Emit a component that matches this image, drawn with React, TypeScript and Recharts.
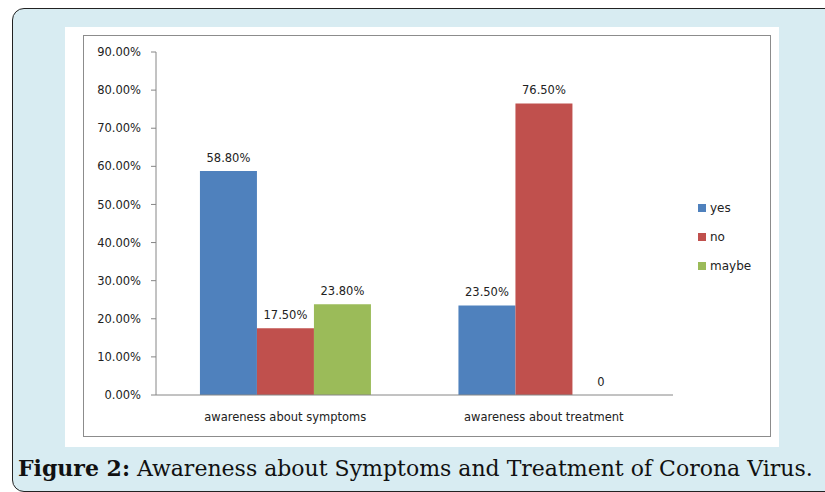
import { BarChart, Bar, XAxis, YAxis, LabelList } from 'recharts';

const categories = ['awareness about symptoms', 'awareness about treatment'];
const yes = [58.8, 23.5];
const no = [17.5, 76.5];
const maybe = [23.8, 0];
const yTicks = [0, 10, 20, 30, 40, 50, 60, 70, 80, 90];

const SERIES = [
    { key: 'yes', name: 'yes', color: '#4f81bd' },
    { key: 'no', name: 'no', color: '#c0504d' },
    { key: 'maybe', name: 'maybe', color: '#9bbb59' },
];

const data = categories.map((c, i) => ({
    name: c,
    yes: yes[i],
    no: no[i],
    maybe: maybe[i],
}));

const FONT = '"DejaVu Sans", sans-serif';

const fmtLabel = (v: any) => (Number(v) === 0 ? '0' : `${Number(v).toFixed(2)}%`);

// custom label so the zero bar still gets its "0"
const renderLabel = (props: any) => {
    const { x, y, width, value } = props;
    if (value === undefined || value === null) return null;
    return (
        <text
            x={Number(x) + Number(width) / 2}
            y={Number(y) - 9}
            textAnchor="middle"
            fontFamily={FONT}
            fontSize={11.5}
            fill="#222"
        >
            {fmtLabel(value)}
        </text>
    );
};

const App = () => {
    return (
        <div style={{ position: 'fixed', left: 0, top: 0, width: 825, height: 492, overflow: 'hidden', background: '#fff' }}>
            <div
                style={{
                    position: 'absolute', left: 12, top: 8, width: 840, height: 482,
                    background: '#d8ecf2', border: '1.5px solid #222', borderRadius: 12,
                }}
            />
            <div style={{ position: 'absolute', left: 65, top: 27, width: 714, height: 420, background: '#fff' }} />
            <div style={{ position: 'absolute', left: 83, top: 35, width: 686, height: 400, border: '1px solid #8c8c8c' }}>
                <BarChart
                    width={686}
                    height={400}
                    data={data}
                    margin={{ top: 16, right: 97, left: 0, bottom: 0 }}
                    barCategoryGap="17%"
                    barGap={0}
                >
                    <XAxis
                        xAxisId="grid"
                        type="number"
                        domain={[0, 2]}
                        ticks={[0, 1, 2]}
                        height={0}
                        axisLine={false}
                        tickSize={5}
                        tickLine={{ stroke: '#868686' }}
                        tickFormatter={() => ''}
                    />
                    <XAxis
                        dataKey="name"
                        height={41}
                        tickLine={false}
                        axisLine={{ stroke: '#868686' }}
                        tickMargin={12}
                        tick={{ fontFamily: FONT, fontSize: 11.5, fill: '#222' }}
                    />
                    <YAxis
                        width={72}
                        domain={[0, 90]}
                        ticks={yTicks}
                        interval={0}
                        tickSize={5}
                        tickMargin={10}
                        axisLine={{ stroke: '#868686' }}
                        tickLine={{ stroke: '#868686' }}
                        tickFormatter={(v: number) => `${v.toFixed(2)}%`}
                        tick={{ fontFamily: FONT, fontSize: 11.5, fill: '#222' }}
                    />
                    {SERIES.map(s => (
                        <Bar
                            key={s.key}
                            dataKey={s.key}
                            name={s.name}
                            fill={s.color}
                            minPointSize={0.01}
                            isAnimationActive={false}
                        >
                            <LabelList dataKey={s.key} content={renderLabel} />
                        </Bar>
                    ))}
                </BarChart>
                <div style={{ position: 'absolute', left: 614, top: 157, fontFamily: FONT, fontSize: 12, color: '#222' }}>
                    {SERIES.map(s => (
                        <div key={s.key} style={{ display: 'flex', alignItems: 'center', height: 29 }}>
                            <span style={{ width: 8, height: 8, background: s.color, marginRight: 4 }} />
                            <span>{s.name}</span>
                        </div>
                    ))}
                </div>
            </div>
            <div
                style={{
                    position: 'absolute', left: 18, top: 455, whiteSpace: 'nowrap',
                    fontFamily: '"DejaVu Serif", serif', fontSize: 22, color: '#111',
                }}
            >
                <b>Figure 2:</b> Awareness about Symptoms and Treatment of Corona Virus.
            </div>
        </div>
    );
};

export default App;
